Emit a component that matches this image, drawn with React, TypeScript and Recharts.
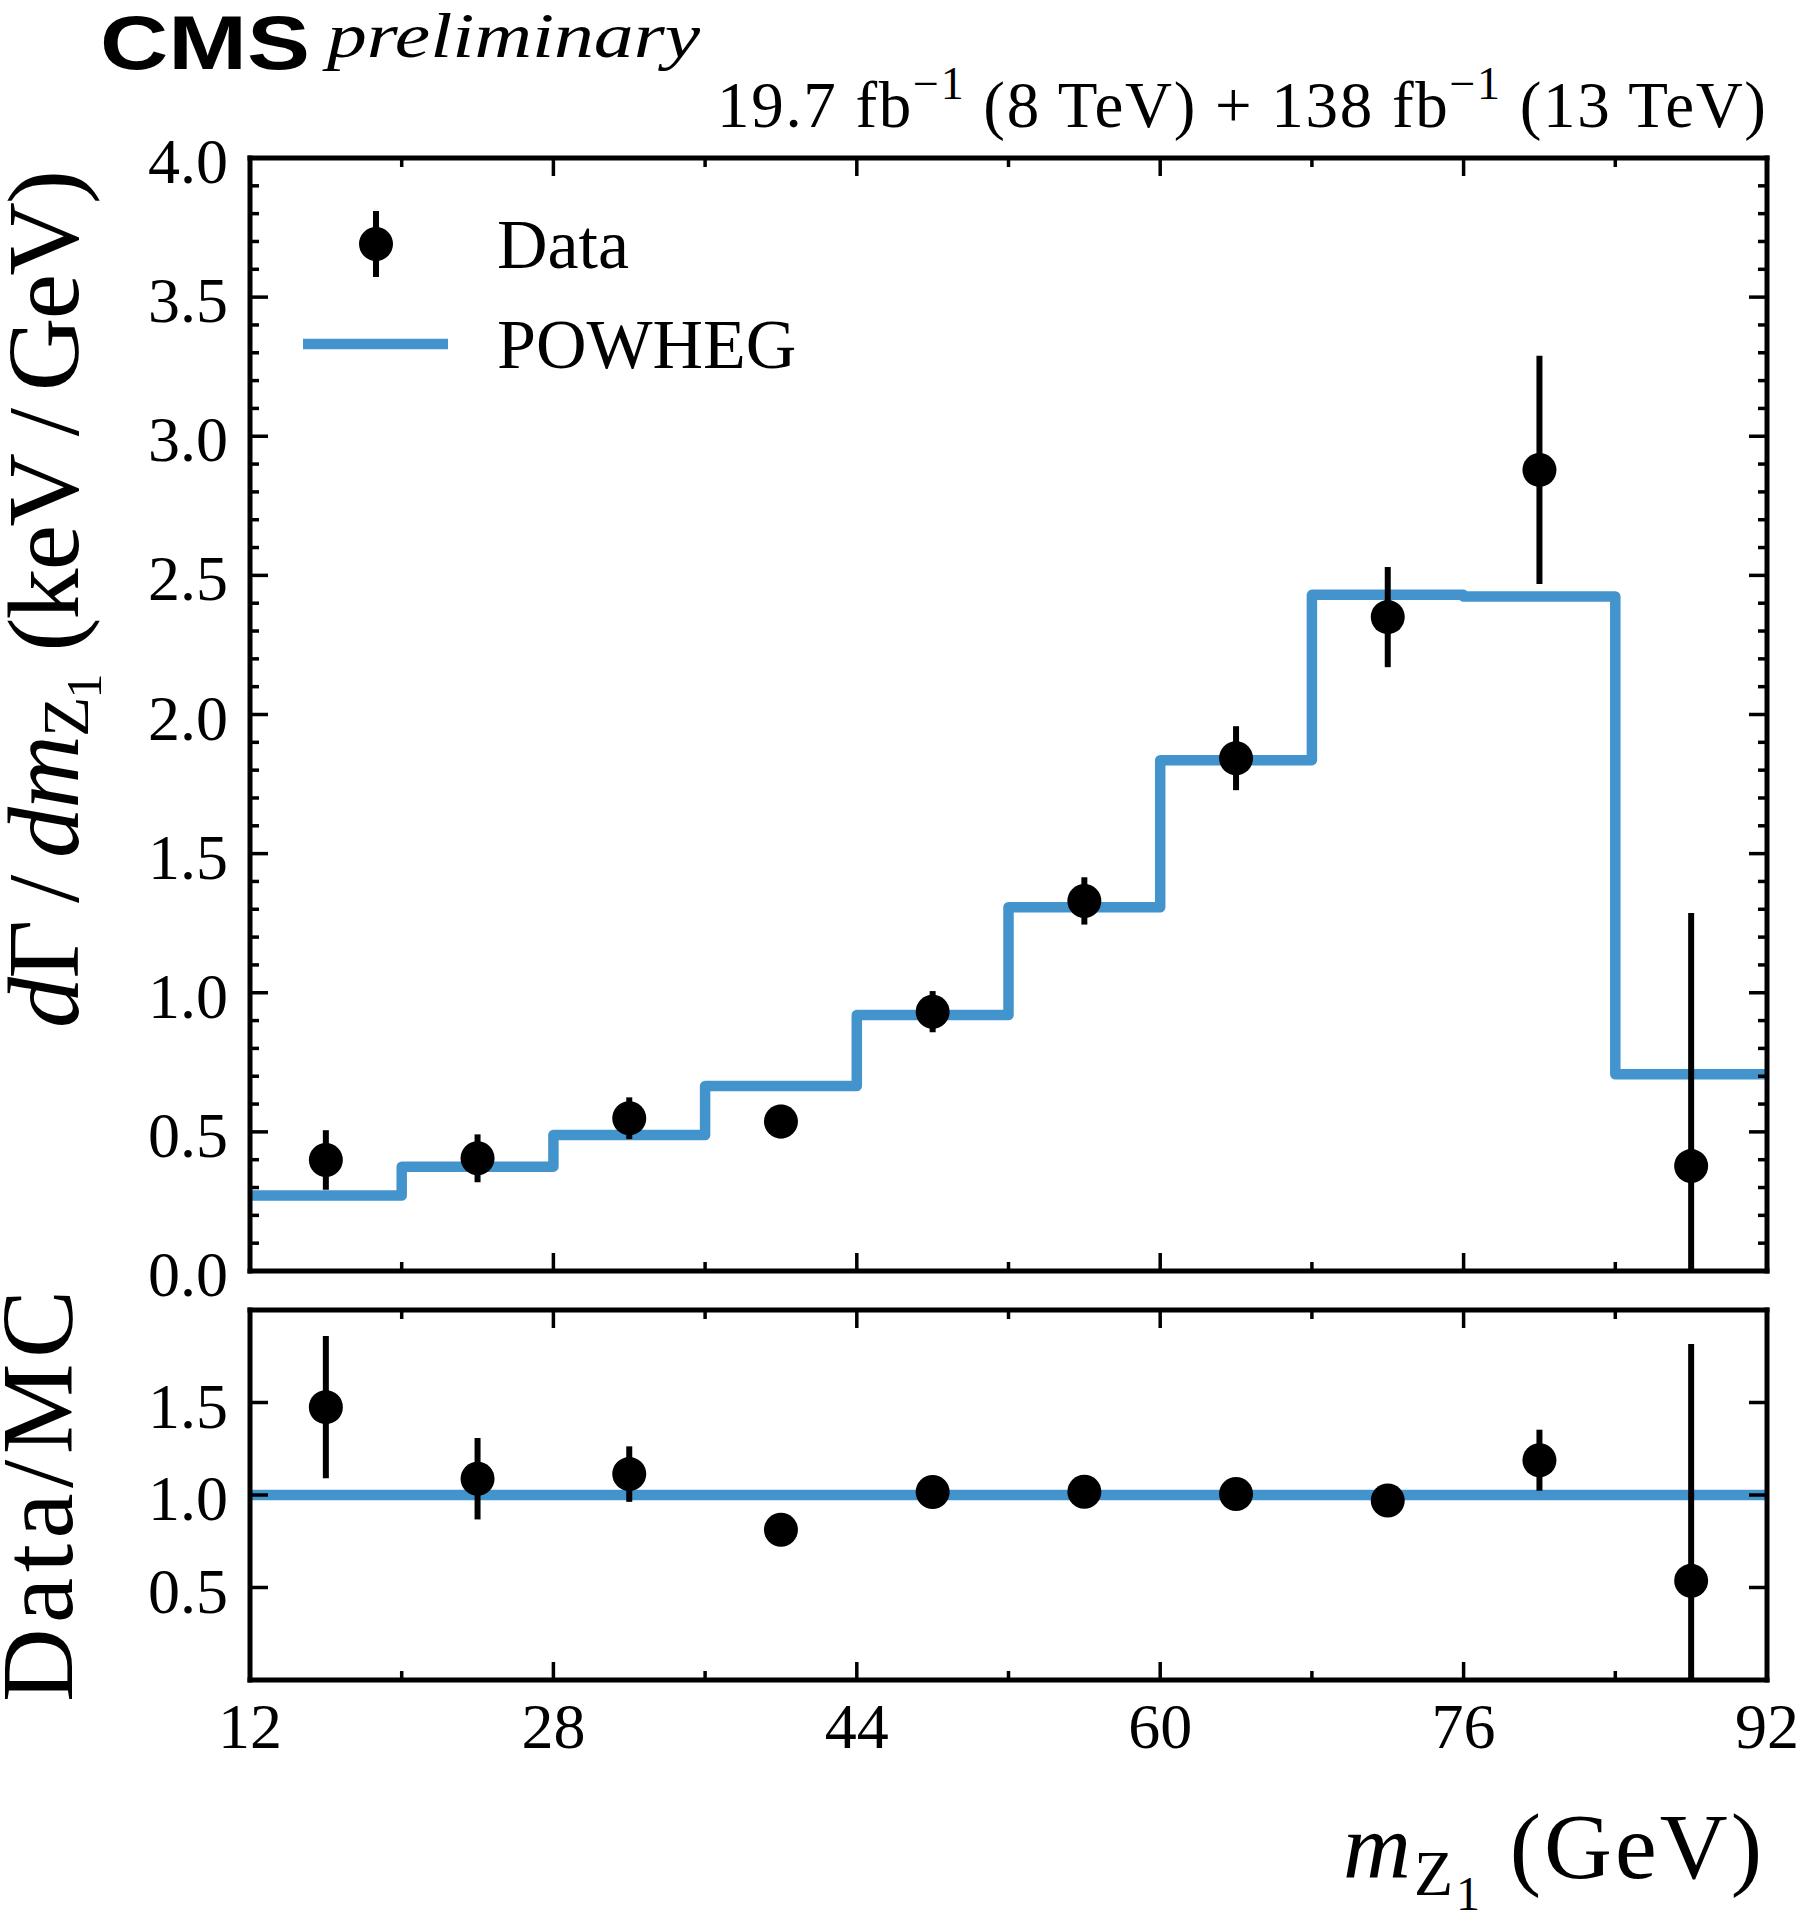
import React from 'react';
import { ComposedChart, Line, Scatter, ErrorBar, XAxis, YAxis, ReferenceLine, Legend } from 'recharts';

// binning in m_Z1 (GeV)
const binEdges = [12, 20, 28, 36, 44, 52, 60, 68, 76, 84, 92];
const xMajorTicks = [12, 28, 44, 60, 76, 92];
const xTickLabels = ['12', '28', '44', '60', '76', '92'];

// dGamma/dm_Z1 (keV/GeV)
const powheg = [0.271, 0.375, 0.489, 0.665, 0.92, 1.307, 1.836, 2.43, 2.424, 0.707];
const dataValues = [0.399, 0.405, 0.549, 0.537, 0.932, 1.33, 1.843, 2.35, 2.879, 0.377];
const dataErrors = [0.107, 0.086, 0.075, 0.06, 0.074, 0.085, 0.115, 0.18, 0.41, 0.91];

// Data / MC
const ratioValues = [1.475, 1.088, 1.113, 0.812, 1.016, 1.018, 1.005, 0.97, 1.188, 0.536];
const ratioErrors = [0.385, 0.22, 0.15, 0.075, 0.08, 0.065, 0.063, 0.074, 0.165, 1.28];

const mainYMajor = [0, 0.5, 1, 1.5, 2, 2.5, 3, 3.5, 4];
const mainYLabels = ['0.0', '0.5', '1.0', '1.5', '2.0', '2.5', '3.0', '3.5', '4.0'];
const ratioYMajor = [0.5, 1, 1.5];
const ratioYLabels = ['0.5', '1.0', '1.5'];

const MAIN_Y = [0, 4];
const RATIO_Y = [0, 2];

const BLUE = '#4394cd';
const SERIF = '"Liberation Serif", "DejaVu Serif", serif';
const SANS = '"Liberation Sans", Arial, sans-serif';
const FRAME = { stroke: '#000', strokeWidth: 5, strokeLinecap: 'square' as const };
const TICK_W = 3.5;
const TICK_MAJOR = 18;
const TICK_MINOR = 9;
const TICK_FONT = 64;

// minor ticks every 0.1 on the main y axis
const mainYTicks = Array.from({ length: 41 }, (_, i) => i / 10);

const centers = binEdges.slice(0, -1).map((e, i) => (e + binEdges[i + 1]) / 2);
const histRows = binEdges.map((x, i) => ({ x, y: powheg[Math.min(i, powheg.length - 1)] }));
// error bars are cut at the bottom of the frame
const clampErr = (v: number, e: number, lo: number) => [Math.min(e, v - lo), e];
const dataRows = centers.map((x, i) => ({ x, y: dataValues[i], err: clampErr(dataValues[i], dataErrors[i], MAIN_Y[0]) }));
const ratioRows = centers.map((x, i) => ({ x, y: ratioValues[i], err: clampErr(ratioValues[i], ratioErrors[i], RATIO_Y[0]) }));

const findTick = (list: number[], v: number) => list.findIndex((m) => Math.abs(m - v) < 1e-6);

// inward ticks, matplotlib style; labels drawn outside the frame
const xTick = (side: 'top' | 'bottom', labels: string[] | null) => (props: any) => {
  const { x, y, payload } = props;
  const idx = findTick(xMajorTicks, payload.value);
  const len = idx >= 0 ? TICK_MAJOR : TICK_MINOR;
  const dir = side === 'bottom' ? -1 : 1;
  return (
    <g>
      <line x1={x} y1={y} x2={x} y2={y + dir * len} stroke="#000" strokeWidth={TICK_W} />
      {labels && idx >= 0 && (
        <text x={x} y={y + 68} textAnchor="middle" fontSize={TICK_FONT} fontFamily={SERIF} fill="#000">
          {labels[idx]}
        </text>
      )}
    </g>
  );
};

const yTick = (side: 'left' | 'right', majors: number[], labels: string[] | null) => (props: any) => {
  const { x, y, payload } = props;
  const idx = findTick(majors, payload.value);
  const len = idx >= 0 ? TICK_MAJOR : TICK_MINOR;
  const dir = side === 'left' ? 1 : -1;
  return (
    <g>
      <line x1={x} y1={y} x2={x + dir * len} y2={y} stroke="#000" strokeWidth={TICK_W} />
      {labels && idx >= 0 && (
        <text x={x - 22} y={y + 25} textAnchor="end" fontSize={TICK_FONT} fontFamily={SERIF} fill="#000">
          {labels[idx]}
        </text>
      )}
    </g>
  );
};

const dot = (props: any) => <circle cx={props.cx} cy={props.cy} r={17} fill="#000" />;

const renderLegend = (props: any) => {
  const items = [...(props.payload ?? [])].sort(
    (a: any, b: any) => (a.type === 'line' ? 1 : 0) - (b.type === 'line' ? 1 : 0)
  );
  return (
    <svg width={560} height={200} style={{ display: 'block' }}>
      {items.map((entry: any, i: number) => {
        const cy = 49 + i * 100;
        return (
          <g key={entry.value}>
            {entry.type === 'line' ? (
              <line x1={13} y1={cy} x2={158} y2={cy} stroke={entry.color} strokeWidth={10.5} />
            ) : (
              <g>
                <line x1={86} y1={cy - 33} x2={86} y2={cy + 33} stroke="#000" strokeWidth={6} />
                <circle cx={86} cy={cy} r={17} fill="#000" />
              </g>
            )}
            <text x={207} y={cy + 24} fontSize={70} fontFamily={SERIF} fill="#000">
              {entry.value}
            </text>
          </g>
        );
      })}
    </svg>
  );
};

function frameAxes(yDomain: number[], yTicks: number[], yMajor: number[], yLabels: string[], xLabels: string[] | null) {
  const common = { tickSize: 0, tickMargin: 0, tickLine: false, axisLine: FRAME, allowDataOverflow: true, interval: 0 as const };
  return [
    <XAxis key="xb" xAxisId="b" dataKey="x" type="number" orientation="bottom" domain={[12, 92]} ticks={binEdges} height={1} tick={xTick('bottom', xLabels)} {...common} />,
    <XAxis key="xt" xAxisId="t" dataKey="x" type="number" orientation="top" domain={[12, 92]} ticks={binEdges} height={1} tick={xTick('top', null)} {...common} />,
    <YAxis key="yl" yAxisId="l" type="number" orientation="left" domain={yDomain} ticks={yTicks} width={1} tick={yTick('left', yMajor, yLabels)} {...common} />,
    <YAxis key="yr" yAxisId="r" type="number" orientation="right" domain={yDomain} ticks={yTicks} width={1} tick={yTick('right', yMajor, null)} {...common} />,
  ];
}

function MainPanel() {
  return (
    <ComposedChart width={1800} height={1330} margin={{ top: 157, right: 32, bottom: 58, left: 249 }}>
      {frameAxes(MAIN_Y, mainYTicks, mainYMajor, mainYLabels, null)}
      <Line
        xAxisId="b"
        yAxisId="l"
        name="POWHEG"
        data={histRows}
        dataKey="y"
        type="stepAfter"
        stroke={BLUE}
        strokeWidth={10.5}
        strokeLinejoin="round"
        dot={false}
        activeDot={false}
        isAnimationActive={false}
      />
      <Scatter xAxisId="b" yAxisId="l" name="Data" data={dataRows} dataKey="y" fill="#000" shape={dot} isAnimationActive={false}>
        <ErrorBar dataKey="err" direction="y" width={0} stroke="#000" strokeWidth={6} isAnimationActive={false} />
      </Scatter>
      <Legend
        layout="vertical"
        align="center"
        verticalAlign="middle"
        wrapperStyle={{ left: 290, top: 195, width: 560, height: 200 }}
        content={renderLegend}
      />
    </ComposedChart>
  );
}

function RatioPanel() {
  return (
    <ComposedChart width={1800} height={611} margin={{ top: 9, right: 32, bottom: 230, left: 249 }}>
      {frameAxes(RATIO_Y, ratioYMajor, ratioYMajor, ratioYLabels, xTickLabels)}
      <ReferenceLine xAxisId="b" yAxisId="l" y={1} stroke={BLUE} strokeWidth={10.5} />
      <Scatter xAxisId="b" yAxisId="l" name="Data" data={ratioRows} dataKey="y" fill="#000" shape={dot} isAnimationActive={false}>
        <ErrorBar dataKey="err" direction="y" width={0} stroke="#000" strokeWidth={6} isAnimationActive={false} />
      </Scatter>
    </ComposedChart>
  );
}

export default function App() {
  return (
    <div style={{ position: 'absolute', left: 0, top: 0, width: 1800, height: 1911, background: '#fff', overflow: 'hidden' }}>
      <div style={{ position: 'absolute', left: 0, top: 0 }}>
        <MainPanel />
      </div>
      <div style={{ position: 'absolute', left: 0, top: 1300 }}>
        <RatioPanel />
      </div>
      <svg width={1800} height={1911} style={{ position: 'absolute', left: 0, top: 0, pointerEvents: 'none' }}>
        <text x={100} y={69} fontFamily={SANS} fontWeight="bold" fontSize={76} textLength={210} lengthAdjust="spacingAndGlyphs">
          CMS
        </text>
        <text x={327} y={57} fontFamily={SERIF} fontStyle="italic" fontSize={64} textLength={373} lengthAdjust="spacingAndGlyphs">
          preliminary
        </text>
        <text x={717} y={127} fontFamily={SERIF} fontSize={65} textLength={1049} lengthAdjust="spacing">
          <tspan>19.7 fb</tspan>
          <tspan dy={-28} fontSize={46}>{'\u22121'}</tspan>
          <tspan dy={28}>{' (8 TeV) + 138 fb'}</tspan>
          <tspan dy={-28} fontSize={46}>{'\u22121'}</tspan>
          <tspan dy={28}>{' (13 TeV)'}</tspan>
        </text>
        <text transform="translate(78, 1028) rotate(-90)" fontFamily={SERIF} fontSize={102} textLength={858} lengthAdjust="spacing">
          <tspan fontStyle="italic">d</tspan>
          <tspan>{'\u0393\u2009/\u2009'}</tspan>
          <tspan fontStyle="italic">dm</tspan>
          <tspan dy={10} fontSize={66}>Z</tspan>
          <tspan dy={13} fontSize={50}>1</tspan>
          <tspan dy={-23}>{' (keV\u2009/\u2009GeV)'}</tspan>
        </text>
        <text transform="translate(72, 1702) rotate(-90)" fontFamily={SERIF} fontSize={102} textLength={412} lengthAdjust="spacing">
          Data/MC
        </text>
        <text x={1343} y={1878} fontFamily={SERIF} fontSize={94} textLength={419} lengthAdjust="spacing">
          <tspan fontStyle="italic">m</tspan>
          <tspan dy={17} fontSize={64}>Z</tspan>
          <tspan dy={15} fontSize={48}>1</tspan>
          <tspan dy={-32}>{' (GeV)'}</tspan>
        </text>
      </svg>
    </div>
  );
}
